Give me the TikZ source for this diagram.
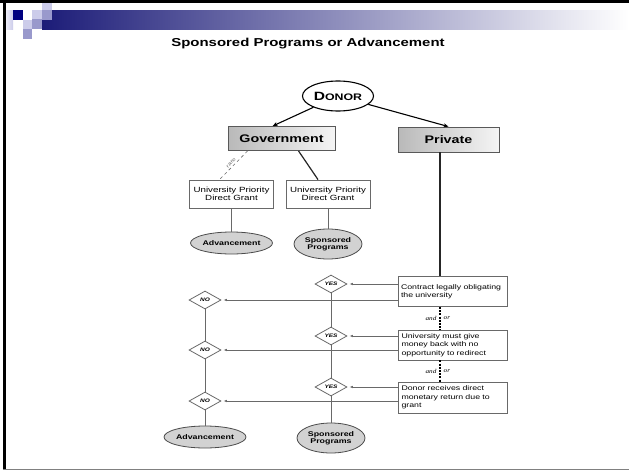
\documentclass[tikz,border=0pt]{standalone}
\usepackage{fontspec}
\setmainfont[FakeStretch=1.3]{Liberation Sans}
\newfontfamily\andorfont[FakeStretch=1.2]{Liberation Serif}
\usetikzlibrary{shapes.geometric,arrows.meta}

\definecolor{bandnavy}{RGB}{28,28,120}
\definecolor{bandmid}{RGB}{150,150,182}
\definecolor{sqnavy}{RGB}{0,0,128}
\definecolor{sqlight}{RGB}{204,204,234}
\definecolor{sqmid}{RGB}{153,153,204}
\definecolor{linegray}{RGB}{105,105,105}

\begin{document}
\begin{tikzpicture}[x=1pt,y=-1pt,
  box/.style={draw=linegray, line width=0.8pt, inner sep=0pt, align=center},
  headbox/.style={box, draw=gray!70!black, left color=gray!55, right color=gray!8, minimum height=24pt, font=\fontsize{11}{13}\selectfont\bfseries},
  grantbox/.style={box, minimum width=84pt, minimum height=28pt, font=\fontsize{7.5}{8.5}\selectfont},
  testbox/.style={box, align=left, text width=103pt, minimum height=30pt, inner xsep=3pt, font=\fontsize{6.75}{8.3}\selectfont},
  outcome/.style={ellipse, draw=gray!60!black, line width=0.8pt, fill=gray!35, inner sep=0pt, align=center, font=\fontsize{6.8}{7.2}\selectfont\bfseries},
  answer/.style={diamond, aspect=2, draw=linegray, line width=0.8pt, fill=white, inner sep=0pt, minimum width=32pt, minimum height=18pt, font=\fontsize{5}{6}\selectfont\bfseries\itshape},
  feed/.style={draw=linegray, line width=0.8pt, -{Latex[length=3.5pt,width=2.6pt]}, shorten >=2pt},
  chain/.style={draw=linegray, line width=1pt},
  andor/.style={font=\andorfont\itshape\fontsize{6}{6}\selectfont, inner sep=3pt},
]
\fill[white] (0,0) rectangle (629,471);
\useasboundingbox (0,0) rectangle (629,471);

% slide frame and header band
\fill (0,0) rectangle (629,3);
\fill (3,0) rectangle (6,470);
\fill[gray] (3,468.5) rectangle (629,470);
\shade[left color=sqlight!40, right color=sqlight] (6,10) rectangle (13,29);
\shade[left color=bandnavy, middle color=bandmid, right color=white] (42,10) rectangle (629,29);
\fill[sqnavy] (13,10) rectangle (23,20);
\fill[sqlight] (32,10) rectangle (42,19);
\fill[sqmid] (42,10) rectangle (52,20);
\fill[sqlight] (42,3) rectangle (52,10);
\fill[sqlight] (23,20) rectangle (32,29);
\fill[sqmid] (32,19) rectangle (42,29);
\fill[sqmid] (23,29) rectangle (32,39);

\node[font=\fontsize{11.5}{14}\selectfont\bfseries] (title) at (308,44) {Sponsored Programs or Advancement};

% donor and its two sources
\node[ellipse, draw, line width=1.1pt, minimum width=71pt, minimum height=30pt, inner sep=0pt, font=\bfseries] (donor) at (338,96) {{\fontsize{12}{12}\selectfont D}{\fontsize{9.5}{12}\selectfont ONOR}};
\node[headbox, minimum width=107pt] (gov) at (281.5,138.5) {Government};
\node[headbox, minimum width=101pt, minimum height=25pt] (private) at (448.5,139.5) {Private};

\draw[line width=1.1pt, -{Stealth[length=5pt,width=4pt]}] (donor) -- ([xshift=-9pt]gov.north);
\draw[line width=1.1pt, -{Stealth[length=5pt,width=4pt]}] (donor) -- (private.north);

\node[grantbox] (grantL) at (231.5,194) {University Priority\\Direct Grant};
\node[grantbox] (grantR) at (328,194) {University Priority\\Direct Grant};

\draw[dashed, linegray, line width=0.6pt] ([xshift=20pt]gov.south west) -- node[above, sloped, font=\fontsize{5}{5}\selectfont, inner sep=1.5pt] {rare} ([xshift=-12pt]grantL.north);
\draw[line width=1.2pt, black!85] ([xshift=17pt]gov.south) -- ([xshift=-10pt]grantR.north);

\node[outcome, minimum width=80pt, minimum height=22pt] (advT) at (231.5,243) {Advancement};
\node[outcome, minimum width=68pt, minimum height=30pt] (sponT) at (328,244) {Sponsored\\Programs};
\draw[chain] (grantL) -- (advT);
\draw[chain] (grantR) -- (sponT);

% tests for private money
\node[testbox] (contract) at (452.5,291.5) {Contract legally obligating\\the university};
\node[testbox] (refund) at (453,345) {University must give\\money back with no\\opportunity to redirect};
\node[testbox, minimum height=31pt] (payback) at (453,397.5) {Donor receives direct\\monetary return due to\\grant};

\coordinate (drop) at ([xshift=-8.5pt]private.south);
\draw[line width=1.2pt, black!85] (drop) -- (drop |- contract.north);
\draw[line width=1.3pt, dash pattern=on 2pt off 1.2pt] (contract.south -| drop) -- (refund.north -| drop)
  node[midway, left, andor] {and} node[midway, right, andor] {or};
\draw[line width=1.3pt, dash pattern=on 2pt off 1.2pt] (refund.south -| drop) -- (payback.north -| drop)
  node[midway, left, andor] {and} node[midway, right, andor] {or};

\node[answer] (yes1) at (331,284) {YES};
\node[answer] (yes2) at (331,336) {YES};
\node[answer] (yes3) at (331,387) {YES};
\node[answer] (no1) at (205,300) {NO};
\node[answer] (no2) at (205,350) {NO};
\node[answer] (no3) at (205,401) {NO};
\node[outcome, minimum width=80pt, minimum height=22pt] (advB) at (205,437) {Advancement};
\node[outcome, minimum width=68pt, minimum height=30pt] (sponB) at (331,438) {Sponsored\\Programs};

\draw[chain] (yes1) -- (yes2) (yes2) -- (yes3) (yes3) -- (sponB);
\draw[chain] (no1) -- (no2) (no2) -- (no3) (no3) -- (advB);

\draw[feed] (contract.west |- yes1) -- (yes1);
\draw[feed] (contract.west |- no1) -- (no1);
\draw[feed] (refund.west |- yes2) -- (yes2);
\draw[feed] (refund.west |- no2) -- (no2);
\draw[feed] (payback.west |- yes3) -- (yes3);
\draw[feed] (payback.west |- no3) -- (no3);

\end{tikzpicture}
\end{document}
